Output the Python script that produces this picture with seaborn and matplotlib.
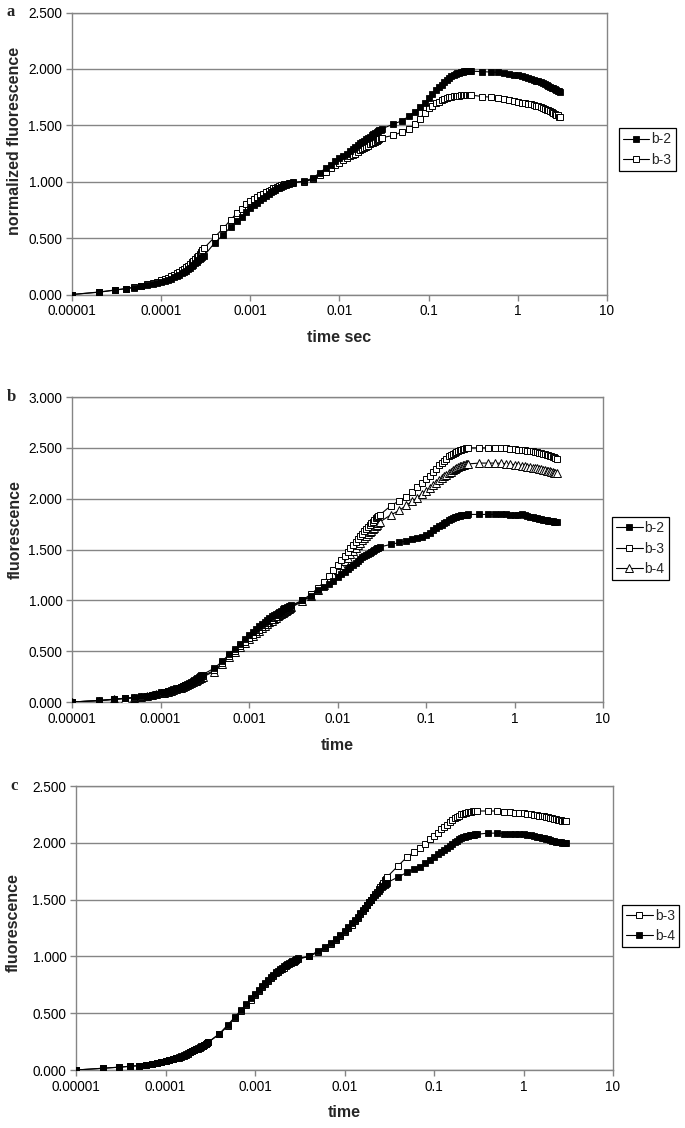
import matplotlib
matplotlib.use("Agg")
import matplotlib.pyplot as plt
import seaborn as sns
from matplotlib.ticker import FixedLocator, NullLocator, FuncFormatter

sns.set_style("white")
plt.rcParams["font.family"] = ["Liberation Sans", "DejaVu Sans"]

# ---------------- data ----------------
TIME_S = [
    1e-5, 2e-5, 3e-5, 4e-5, 5e-5, 6e-5, 7e-5, 8e-5, 9e-5, 10e-5,
    11e-5, 12e-5, 13e-5, 14e-5, 15e-5, 16e-5, 17e-5, 18e-5, 19e-5, 20e-5,
    21e-5, 22e-5, 23e-5, 24e-5, 25e-5, 26e-5, 27e-5, 28e-5, 29e-5, 30e-5,
    4e-4, 5e-4, 6e-4, 7e-4, 8e-4, 9e-4, 10e-4, 11e-4, 12e-4, 13e-4, 14e-4, 15e-4, 16e-4, 17e-4,
    18e-4, 19e-4, 20e-4, 21e-4, 22e-4, 23e-4, 24e-4, 25e-4, 26e-4, 27e-4, 28e-4, 29e-4, 30e-4,
    4e-3, 5e-3, 6e-3, 7e-3, 8e-3, 9e-3, 10e-3, 11e-3, 12e-3, 13e-3, 14e-3, 15e-3, 16e-3, 17e-3,
    18e-3, 19e-3, 20e-3, 21e-3, 22e-3, 23e-3, 24e-3, 25e-3, 26e-3, 27e-3, 28e-3, 29e-3, 30e-3,
    0.04, 0.05, 0.06, 0.07, 0.08, 0.09, 0.10, 0.11, 0.12, 0.13, 0.14, 0.15, 0.16, 0.17,
    0.18, 0.19, 0.20, 0.21, 0.22, 0.23, 0.24, 0.25, 0.26, 0.27, 0.28, 0.29, 0.30,
    0.4, 0.5, 0.6, 0.7, 0.8, 0.9, 1.0, 1.1, 1.2, 1.3, 1.4, 1.5, 1.6, 1.7,
    1.8, 1.9, 2.0, 2.1, 2.2, 2.3, 2.4, 2.5, 2.6, 2.7, 2.8, 2.9, 3.0,
]

# panel a
A_B2 = [
    0.000, 0.022, 0.040, 0.053, 0.062, 0.072, 0.080, 0.089, 0.099, 0.110,
    0.120, 0.130, 0.141, 0.152, 0.163, 0.175, 0.187, 0.200, 0.212, 0.225,
    0.238, 0.252, 0.265, 0.278, 0.290, 0.302, 0.312, 0.322, 0.331, 0.340,
    0.46, 0.53, 0.60, 0.65, 0.69, 0.735, 0.765, 0.79, 0.815, 0.835, 0.855, 0.875, 0.89, 0.905,
    0.918, 0.93, 0.94, 0.948, 0.956, 0.963, 0.969, 0.974, 0.978, 0.982, 0.986, 0.989, 0.992,
    1.005, 1.03, 1.08, 1.12, 1.15, 1.18, 1.21, 1.23, 1.25, 1.27, 1.29, 1.31, 1.325, 1.34,
    1.35, 1.365, 1.375, 1.387, 1.40, 1.41, 1.42, 1.43, 1.438, 1.446, 1.454, 1.462, 1.47,
    1.51, 1.54, 1.58, 1.62, 1.66, 1.70, 1.74, 1.78, 1.81, 1.84, 1.86, 1.88, 1.90, 1.92,
    1.935, 1.948, 1.957, 1.963, 1.968, 1.972, 1.975, 1.977, 1.978, 1.979, 1.98, 1.98, 1.98,
    1.975, 1.972, 1.97, 1.965, 1.958, 1.95, 1.942, 1.935, 1.928, 1.92, 1.913, 1.905, 1.897, 1.889,
    1.88, 1.872, 1.865, 1.857, 1.849, 1.842, 1.835, 1.828, 1.821, 1.815, 1.808, 1.802, 1.796,
]
A_B3 = [
    0.000, 0.020, 0.038, 0.052, 0.065, 0.078, 0.090, 0.102, 0.114, 0.126,
    0.138, 0.150, 0.163, 0.176, 0.189, 0.202, 0.215, 0.229, 0.243, 0.257,
    0.271, 0.285, 0.300, 0.315, 0.330, 0.345, 0.360, 0.375, 0.392, 0.408,
    0.51, 0.59, 0.66, 0.72, 0.76, 0.80, 0.825, 0.845, 0.865, 0.88, 0.895, 0.91, 0.92, 0.93,
    0.94, 0.948, 0.955, 0.962, 0.967, 0.972, 0.976, 0.98, 0.983, 0.986, 0.989, 0.991, 0.993,
    1.00, 1.02, 1.06, 1.09, 1.12, 1.15, 1.17, 1.19, 1.21, 1.23, 1.24, 1.25, 1.265, 1.28,
    1.29, 1.30, 1.31, 1.32, 1.33, 1.34, 1.345, 1.355, 1.36, 1.37, 1.375, 1.383, 1.39,
    1.41, 1.44, 1.465, 1.51, 1.56, 1.61, 1.65, 1.675, 1.695, 1.71, 1.725, 1.735, 1.745, 1.75,
    1.755, 1.758, 1.76, 1.762, 1.764, 1.765, 1.766, 1.767, 1.768, 1.768, 1.768, 1.768, 1.768,
    1.755, 1.75, 1.745, 1.735, 1.725, 1.715, 1.708, 1.70, 1.695, 1.69, 1.685, 1.68, 1.675, 1.668,
    1.66, 1.655, 1.648, 1.64, 1.632, 1.625, 1.617, 1.61, 1.602, 1.595, 1.587, 1.578, 1.57,
]

# panel b
B_B2 = [
    0.000, 0.015, 0.028, 0.038, 0.045, 0.055, 0.063, 0.072, 0.082, 0.095,
    0.102, 0.110, 0.118, 0.126, 0.134, 0.142, 0.150, 0.159, 0.168, 0.177,
    0.186, 0.195, 0.205, 0.215, 0.225, 0.235, 0.245, 0.255, 0.262, 0.270,
    0.33, 0.40, 0.475, 0.525, 0.575, 0.62, 0.66, 0.69, 0.72, 0.745, 0.77, 0.79, 0.81, 0.83,
    0.845, 0.86, 0.87, 0.88, 0.89, 0.90, 0.91, 0.92, 0.927, 0.934, 0.94, 0.945, 0.95,
    1.00, 1.04, 1.10, 1.13, 1.16, 1.195, 1.23, 1.255, 1.28, 1.305, 1.33, 1.35, 1.37, 1.39,
    1.41, 1.425, 1.44, 1.45, 1.46, 1.47, 1.48, 1.49, 1.497, 1.505, 1.512, 1.518, 1.525,
    1.55, 1.57, 1.585, 1.60, 1.61, 1.625, 1.645, 1.665, 1.69, 1.71, 1.73, 1.745, 1.76, 1.775,
    1.79, 1.80, 1.81, 1.817, 1.823, 1.828, 1.832, 1.835, 1.838, 1.84, 1.842, 1.844, 1.845,
    1.845, 1.845, 1.845, 1.845, 1.845, 1.843, 1.842, 1.844, 1.845, 1.84, 1.83, 1.822, 1.816, 1.81,
    1.805, 1.80, 1.797, 1.793, 1.79, 1.787, 1.784, 1.781, 1.778, 1.776, 1.774, 1.772, 1.77,
]
B_B3 = [
    0.000, 0.014, 0.026, 0.036, 0.043, 0.052, 0.060, 0.069, 0.078, 0.090,
    0.097, 0.105, 0.113, 0.121, 0.129, 0.137, 0.145, 0.154, 0.163, 0.172,
    0.181, 0.190, 0.199, 0.208, 0.217, 0.226, 0.234, 0.242, 0.248, 0.255,
    0.31, 0.385, 0.45, 0.50, 0.55, 0.59, 0.625, 0.655, 0.685, 0.71, 0.735, 0.755, 0.775, 0.795,
    0.81, 0.825, 0.84, 0.855, 0.865, 0.875, 0.885, 0.895, 0.905, 0.915, 0.922, 0.93, 0.937,
    1.00, 1.06, 1.12, 1.18, 1.24, 1.30, 1.35, 1.40, 1.44, 1.48, 1.51, 1.54, 1.57, 1.60,
    1.63, 1.655, 1.68, 1.70, 1.72, 1.74, 1.76, 1.775, 1.79, 1.805, 1.815, 1.828, 1.84,
    1.93, 1.98, 2.02, 2.065, 2.11, 2.15, 2.19, 2.225, 2.26, 2.295, 2.33, 2.355, 2.375, 2.395,
    2.415, 2.43, 2.44, 2.45, 2.46, 2.468, 2.475, 2.48, 2.486, 2.49, 2.494, 2.497, 2.50,
    2.50, 2.50, 2.50, 2.498, 2.495, 2.49, 2.487, 2.483, 2.48, 2.477, 2.473, 2.47, 2.465, 2.46,
    2.455, 2.45, 2.445, 2.44, 2.435, 2.43, 2.425, 2.42, 2.415, 2.41, 2.405, 2.40, 2.395,
]
B_B4 = [
    0.000, 0.013, 0.025, 0.034, 0.041, 0.050, 0.058, 0.066, 0.075, 0.086,
    0.093, 0.101, 0.109, 0.117, 0.125, 0.133, 0.141, 0.149, 0.157, 0.166,
    0.175, 0.184, 0.193, 0.202, 0.210, 0.218, 0.225, 0.232, 0.238, 0.245,
    0.30, 0.37, 0.44, 0.49, 0.54, 0.58, 0.615, 0.645, 0.675, 0.70, 0.725, 0.745, 0.765, 0.785,
    0.80, 0.815, 0.83, 0.845, 0.857, 0.868, 0.878, 0.888, 0.898, 0.907, 0.915, 0.923, 0.93,
    0.99, 1.04, 1.10, 1.15, 1.20, 1.25, 1.30, 1.345, 1.385, 1.42, 1.455, 1.485, 1.51, 1.54,
    1.565, 1.59, 1.61, 1.63, 1.65, 1.67, 1.685, 1.70, 1.715, 1.73, 1.745, 1.757, 1.77,
    1.84, 1.885, 1.935, 1.975, 2.01, 2.05, 2.08, 2.105, 2.13, 2.155, 2.18, 2.20, 2.22, 2.235,
    2.25, 2.265, 2.28, 2.29, 2.30, 2.31, 2.318, 2.325, 2.33, 2.335, 2.338, 2.34, 2.342,
    2.35, 2.35, 2.35, 2.348, 2.345, 2.34, 2.335, 2.33, 2.325, 2.32, 2.315, 2.31, 2.305, 2.30,
    2.297, 2.293, 2.29, 2.285, 2.28, 2.276, 2.272, 2.268, 2.264, 2.26, 2.256, 2.253, 2.25,
]

# panel c
C_B3 = [
    0.000, 0.015, 0.024, 0.032, 0.038, 0.046, 0.054, 0.062, 0.071, 0.080,
    0.088, 0.095, 0.102, 0.110, 0.118, 0.126, 0.135, 0.145, 0.155, 0.165,
    0.173, 0.181, 0.189, 0.197, 0.205, 0.213, 0.221, 0.229, 0.237, 0.244,
    0.315, 0.39, 0.46, 0.52, 0.57, 0.62, 0.66, 0.695, 0.73, 0.76, 0.785, 0.81, 0.83, 0.85,
    0.865, 0.88, 0.89, 0.902, 0.913, 0.923, 0.932, 0.94, 0.948, 0.955, 0.962, 0.968, 0.974,
    1.00, 1.035, 1.075, 1.11, 1.145, 1.18, 1.215, 1.25, 1.28, 1.31, 1.34, 1.37, 1.40, 1.425,
    1.45, 1.475, 1.50, 1.525, 1.55, 1.57, 1.59, 1.61, 1.63, 1.65, 1.67, 1.685, 1.70,
    1.80, 1.875, 1.92, 1.955, 1.99, 2.03, 2.06, 2.09, 2.12, 2.14, 2.16, 2.18, 2.20, 2.215,
    2.23, 2.24, 2.25, 2.256, 2.262, 2.266, 2.27, 2.272, 2.275, 2.277, 2.278, 2.279, 2.28,
    2.28, 2.28, 2.275, 2.27, 2.265, 2.262, 2.26, 2.255, 2.25, 2.245, 2.243, 2.24, 2.236, 2.232,
    2.228, 2.224, 2.22, 2.216, 2.212, 2.208, 2.205, 2.202, 2.199, 2.196, 2.194, 2.192, 2.19,
]
C_B4 = [
    0.000, 0.016, 0.025, 0.033, 0.039, 0.047, 0.055, 0.063, 0.072, 0.082,
    0.090, 0.097, 0.104, 0.112, 0.120, 0.128, 0.137, 0.147, 0.157, 0.167,
    0.175, 0.183, 0.191, 0.199, 0.207, 0.215, 0.223, 0.231, 0.238, 0.245,
    0.32, 0.40, 0.47, 0.53, 0.58, 0.63, 0.67, 0.705, 0.74, 0.77, 0.795, 0.82, 0.84, 0.86,
    0.875, 0.89, 0.90, 0.912, 0.922, 0.932, 0.94, 0.948, 0.956, 0.963, 0.97, 0.976, 0.982,
    1.00, 1.045, 1.085, 1.12, 1.155, 1.19, 1.225, 1.26, 1.29, 1.32, 1.35, 1.38, 1.405, 1.43,
    1.455, 1.48, 1.50, 1.52, 1.54, 1.56, 1.58, 1.595, 1.61, 1.62, 1.63, 1.64, 1.65,
    1.70, 1.74, 1.77, 1.79, 1.82, 1.85, 1.875, 1.90, 1.92, 1.94, 1.955, 1.975, 1.99, 2.005,
    2.02, 2.03, 2.04, 2.047, 2.053, 2.058, 2.062, 2.065, 2.068, 2.07, 2.072, 2.074, 2.075,
    2.085, 2.085, 2.08, 2.08, 2.08, 2.077, 2.075, 2.07, 2.065, 2.06, 2.055, 2.05, 2.045, 2.04,
    2.035, 2.03, 2.025, 2.02, 2.015, 2.01, 2.007, 2.005, 2.003, 2.001, 2.0, 2.0, 2.0,
]

for arr in (A_B2, A_B3, B_B2, B_B3, B_B4, C_B3, C_B4):
    assert len(arr) == len(TIME_S), len(arr)

X_TICKS = [1e-5, 1e-4, 1e-3, 1e-2, 1e-1, 1, 10]
X_TICK_LABELS = ["0.00001", "0.0001", "0.001", "0.01", "0.1", "1", "10"]

# ---------------- styling ----------------
GREY = "#858585"
FILLED_SQ = dict(marker="s", markersize=4.8, markerfacecolor="black",
                 markeredgecolor="black", markeredgewidth=0.6)
OPEN_SQ = dict(marker="s", markersize=5.0, markerfacecolor="white",
               markeredgecolor="black", markeredgewidth=0.7)
OPEN_TRI = dict(marker="^", markersize=5.4, markerfacecolor="white",
                markeredgecolor="black", markeredgewidth=0.7)

W, H = 685.0, 1128.0
fig = plt.figure(figsize=(W / 100, H / 100), dpi=100)


def make_axes(left, right, top, bottom):
    return fig.add_axes([left / W, 1 - bottom / H, (right - left) / W, (bottom - top) / H])


def draw(ax, series, ymax, ylabel, xlabel, ylab_xy, xlab_y, leg_xy, order):
    for y, label, style in series:
        sns.lineplot(x=TIME_S, y=y, ax=ax, color="black", linewidth=0.8,
                     label=label, estimator=None, sort=False, zorder=3, **style)
    ax.set_xscale("log")
    ax.set_xlim(1e-5, 10)
    ax.set_ylim(0, ymax)
    ax.xaxis.set_major_locator(FixedLocator(X_TICKS))
    ax.xaxis.set_minor_locator(NullLocator())
    ax.xaxis.set_major_formatter(FuncFormatter(lambda v, p: X_TICK_LABELS[X_TICKS.index(v)] if v in X_TICKS else ""))
    yt = [i * 0.5 for i in range(int(round(ymax / 0.5)) + 1)]
    ax.yaxis.set_major_locator(FixedLocator(yt))
    ax.yaxis.set_major_formatter(FuncFormatter(lambda v, p: f"{v:.3f}"))
    ax.yaxis.grid(True, color=GREY, linewidth=1.0)
    ax.xaxis.grid(False)
    ax.set_axisbelow(True)
    for s in ax.spines.values():
        s.set_color(GREY)
        s.set_linewidth(1.0)
        s.set_visible(True)
    ax.tick_params(axis="both", which="major", direction="out", length=4,
                   width=1, color=GREY, labelsize=9.8, labelcolor="black", pad=3,
                   left=True, bottom=True)
    ax.set_ylabel(ylabel, fontsize=11.5, fontweight="bold")
    ax.set_xlabel(xlabel, fontsize=11.5, fontweight="bold")
    ax.yaxis.set_label_coords(*ylab_xy)
    ax.yaxis.label.set_verticalalignment("center")
    ax.xaxis.set_label_coords(0.5, xlab_y)
    ax.xaxis.label.set_verticalalignment("center")
    handles, labels = ax.get_legend_handles_labels()
    hmap = dict(zip(labels, handles))
    leg = ax.legend([hmap[l] for l in order], order, loc="center left",
                    bbox_to_anchor=leg_xy, frameon=True, fancybox=False,
                    shadow=False, framealpha=1, edgecolor="black", fontsize=10,
                    handlelength=1.9, handletextpad=0.15, borderpad=0.3,
                    labelspacing=0.45, borderaxespad=0)
    leg.get_frame().set_linewidth(0.9)


# panel a
ax_a = make_axes(72, 607, 12.5, 294.5)
draw(ax_a, [(A_B3, "b-3", OPEN_SQ), (A_B2, "b-2", FILLED_SQ)], 2.5,
     "normalized fluorescence", "time sec", (-0.108, 0.544), -0.154,
     (1.022, 0.514), ["b-2", "b-3"])

# panel b
ax_b = make_axes(72, 603, 397, 702)
draw(ax_b, [(B_B4, "b-4", OPEN_TRI), (B_B3, "b-3", OPEN_SQ), (B_B2, "b-2", FILLED_SQ)], 3.0,
     "fluorescence", "time", (-0.107, 0.564), -0.141,
     (1.017, 0.503), ["b-2", "b-3", "b-4"])

# panel c
ax_c = make_axes(76, 613, 786, 1070)
draw(ax_c, [(C_B3, "b-3", OPEN_SQ), (C_B4, "b-4", FILLED_SQ)], 2.5,
     "fluorescence", "time", (-0.117, 0.519), -0.151,
     (1.017, 0.507), ["b-3", "b-4"])

# panel letters
for letter, (px, py) in {"a": (11, 12.5), "b": (11, 397), "c": (14, 786)}.items():
    fig.text(px / W, 1 - py / H, letter, family=["Liberation Serif", "DejaVu Serif"],
             fontweight="bold", fontsize=12, ha="center", va="center")

fig.savefig("out.png", dpi=100, facecolor="white")
